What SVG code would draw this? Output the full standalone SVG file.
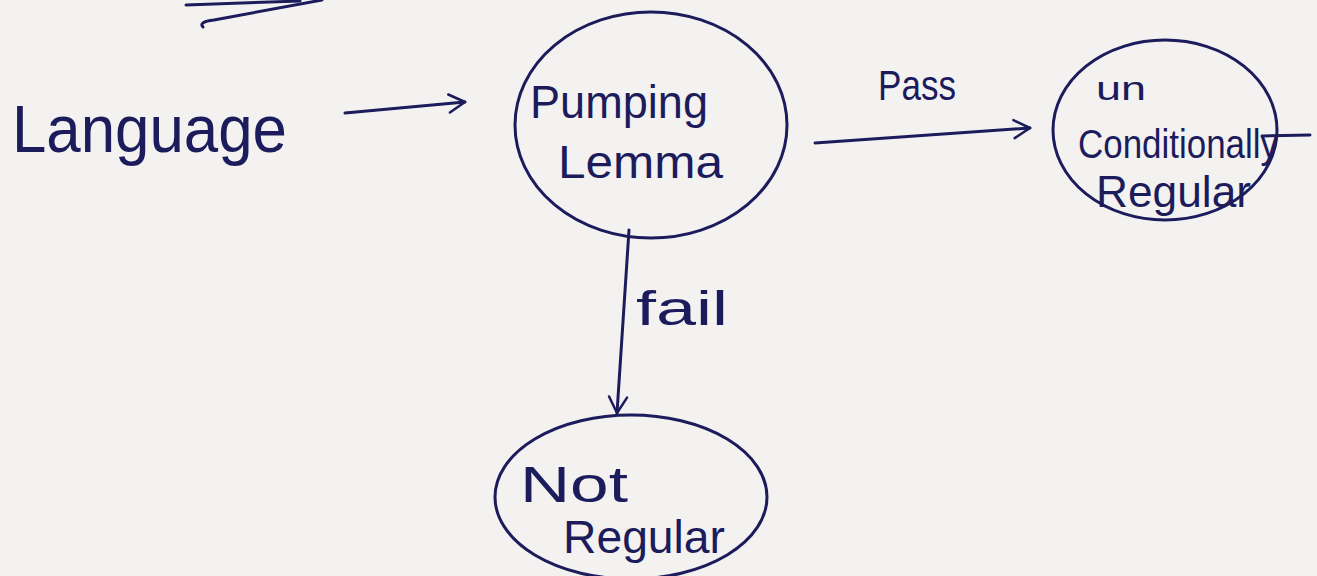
<svg xmlns="http://www.w3.org/2000/svg" width="1317" height="576" viewBox="0 0 1317 576">
<defs>
<style>
.ink{fill:none;stroke:#1c1c5c;stroke-width:3;stroke-linecap:round;stroke-linejoin:round}
.t{fill:#1c1c5c;font-family:"Liberation Sans",Arial,sans-serif}
</style>
<marker id="chev" viewBox="0 0 24 24" refX="21" refY="12" markerWidth="24" markerHeight="24" markerUnits="userSpaceOnUse" orient="auto">
<path d="M5 3 L21 12 L5 21" fill="none" stroke="#1c1c5c" stroke-width="2.5" stroke-linecap="round" stroke-linejoin="round"/>
</marker>
</defs>
<rect x="0" y="0" width="1317" height="576" fill="#f3f2f0"/>
<g id="scribble">
<path class="ink" d="M186 5 L300 1"/>
<path class="ink" d="M203 27 Q198 22 214 20 L322 0"/>
</g>
<g id="language">
<text class="t" x="12" y="152" font-size="66" textLength="275" lengthAdjust="spacingAndGlyphs">Language</text>
</g>
<g id="pumping">
<ellipse class="ink" cx="651" cy="125" rx="136" ry="113"/>
<text class="t" x="530" y="118" font-size="46" textLength="178" lengthAdjust="spacingAndGlyphs">Pumping</text>
<text class="t" x="558" y="178" font-size="46" textLength="165" lengthAdjust="spacingAndGlyphs">Lemma</text>
</g>
<g id="unconditional">
<ellipse class="ink" cx="1165" cy="130" rx="112" ry="90"/>
<text class="t" x="1096" y="100" font-size="34" textLength="50" lengthAdjust="spacingAndGlyphs">un</text>
<text class="t" x="1078" y="158" font-size="40" textLength="200" lengthAdjust="spacingAndGlyphs">Conditionally</text>
<text class="t" x="1096" y="207" font-size="44" textLength="155" lengthAdjust="spacingAndGlyphs">Regular</text>
<path class="ink" d="M1262 136 L1310 135"/>
</g>
<g id="notregular">
<ellipse class="ink" cx="631" cy="497" rx="136" ry="82"/>
<text class="t" x="520" y="502" font-size="50" textLength="108" lengthAdjust="spacingAndGlyphs">Not</text>
<text class="t" x="563" y="553" font-size="46" textLength="162" lengthAdjust="spacingAndGlyphs">Regular</text>
</g>
<g id="connectors">
<path class="ink" d="M345 113 L465 102" marker-end="url(#chev)"/>
<path class="ink" d="M815 143 L1030 128" marker-end="url(#chev)"/>
<text class="t" x="878" y="100" font-size="42" textLength="78" lengthAdjust="spacingAndGlyphs">Pass</text>
<path class="ink" d="M629 230 L617 413" marker-end="url(#chev)"/>
<text class="t" x="636" y="325" font-size="48" textLength="92" lengthAdjust="spacingAndGlyphs">fail</text>
</g>
</svg>
